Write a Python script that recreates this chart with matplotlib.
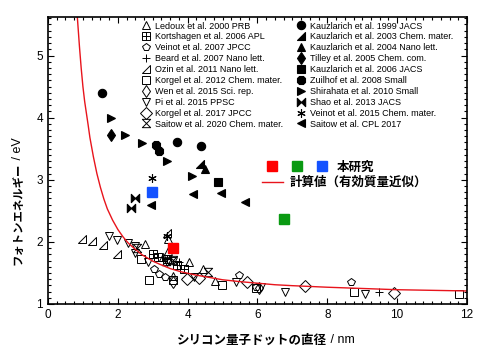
import matplotlib
matplotlib.use('Agg')
import matplotlib.pyplot as plt
from matplotlib.path import Path
from matplotlib.legend_handler import HandlerTuple
from matplotlib.ticker import MultipleLocator

plt.rcParams['font.family'] = ['Liberation Sans', 'Noto Sans CJK JP']
JP = ['Noto Sans CJK JP', 'Liberation Sans']

# --- literature data (diameter nm, photon energy eV) ---
ledoux_d = [2.79, 3.44, 3.45, 4.04, 4.43, 4.79, 3.59, 3.30]
ledoux_E = [1.97, 1.85, 2.04, 1.67, 1.57, 1.37, 1.45, 1.75]
kortshagen_d = [3.02, 3.16, 3.40, 3.69, 3.89]
kortshagen_E = [1.80, 1.76, 1.72, 1.62, 1.57]
veinot07_d = [3.05, 3.18, 3.36, 5.48, 8.67, 5.97]
veinot07_E = [1.56, 1.49, 1.44, 1.47, 1.36, 1.27]
beard_d = [3.75, 9.47]
beard_E = [1.67, 1.20]
ozin_d = [0.96, 1.27, 1.57, 1.98, 3.40]
ozin_E = [2.05, 2.01, 1.95, 1.81, 2.15]
korgel12_d = [2.66, 2.88, 3.59, 4.98, 5.97, 8.77, 11.78]
korgel12_E = [1.73, 1.38, 1.38, 1.30, 1.26, 1.20, 1.16]
wen_d = [3.59, 6.03]
wen_E = [1.35, 1.26]
pi_d = [1.75, 1.99, 2.28, 2.49, 2.50, 2.87, 3.42, 3.57, 4.19, 5.39, 6.10, 6.79, 9.08]
pi_E = [2.09, 2.03, 1.99, 1.93, 1.82, 1.67, 1.67, 1.69, 1.43, 1.35, 1.28, 1.20, 1.16]
korgel17_d = [3.99, 4.32, 5.70, 7.35, 9.92]
korgel17_E = [1.41, 1.42, 1.35, 1.29, 1.17]
saitow20_d = [2.55, 3.38, 3.59, 4.59]
saitow20_E = [1.90, 1.70, 1.71, 1.52]

kauz99_d = [1.56, 3.69, 4.38]
kauz99_E = [4.40, 3.61, 3.54]
kauz03_d = [4.36]
kauz03_E = [3.26]
kauz04_d = [4.50]
kauz04_E = [3.18]
tilley_d = [1.80]
tilley_E = [3.72]
kauz06_d = [4.88]
kauz06_E = [2.96]
zuilhof_d = [3.09, 3.19]
zuilhof_E = [3.56, 3.46]
shirahata_d = [1.81, 2.21, 2.70, 3.42, 4.12]
shirahata_E = [3.99, 3.72, 3.59, 3.31, 3.06]
shao_d = [2.48, 2.39]
shao_E = [2.71, 2.54]
veinot15_d = [2.97, 3.42]
veinot15_E = [3.03, 2.10]
saitow17_d = [2.95, 4.16, 4.96, 5.65]
saitow17_E = [2.59, 2.77, 2.79, 2.64]

# this work
red_d, red_E = [3.58], [1.90]
green_d, green_E = [6.77], [2.37]
blue_d, blue_E = [2.99], [2.81]

# effective mass approximation curve
calc_d = [0.84, 0.9, 0.95, 1.0, 1.05, 1.1, 1.15, 1.2, 1.3, 1.4, 1.5, 1.6, 1.7,
          1.85, 2.0, 2.15, 2.3, 2.5, 2.7, 3.0, 3.2, 3.5, 3.8, 4.2, 4.5, 5.0,
          5.5, 6.0, 6.5, 7.0, 8.0, 9.0, 10.0, 11.0, 12.0]
calc_E = [5.62, 5.15, 4.80, 4.50, 4.26, 4.07, 3.88, 3.68, 3.37, 3.10, 2.88,
          2.69, 2.53, 2.35, 2.20, 2.08, 1.98, 1.88, 1.79, 1.69, 1.64, 1.57,
          1.52, 1.47, 1.44, 1.39, 1.36, 1.335, 1.31, 1.295, 1.27, 1.25, 1.23,
          1.22, 1.21]

# custom marker shapes
M, L, C = Path.MOVETO, Path.LINETO, Path.CLOSEPOLY
sq_plus = Path([(-1, -1), (1, -1), (1, 1), (-1, 1), (-1, -1), (0, -1), (0, 1), (-1, 0), (1, 0)],
               [M, L, L, L, C, M, L, M, L])
rtri = Path([(-1, -1), (1, -1), (1, 1), (-1, -1)], [M, L, L, C])
hourglass = Path([(-1, 1), (1, 1), (-1, -1), (1, -1), (-1, 1)], [M, L, L, L, C])
bowtie = Path([(-1, 1), (1, -1), (1, 1), (-1, -1), (-1, 1)], [M, L, L, L, C])

fig = plt.figure(figsize=(5, 3.58), dpi=100)
ax = fig.add_axes([48 / 500, 1 - 304 / 358, 419 / 500, 287 / 358])

open_sets = [
    (ledoux_d, ledoux_E, '^', 'Ledoux et al. 2000 PRB'),
    (kortshagen_d, kortshagen_E, sq_plus, 'Kortshagen et al. 2006 APL'),
    (veinot07_d, veinot07_E, 'p', 'Veinot et al. 2007 JPCC'),
    (beard_d, beard_E, '+', 'Beard et al. 2007 Nano lett.'),
    (ozin_d, ozin_E, rtri, 'Ozin et al. 2011 Nano lett.'),
    (korgel12_d, korgel12_E, 's', 'Korgel et al. 2012 Chem. mater.'),
    (wen_d, wen_E, 'd', 'Wen et al. 2015 Sci. rep.'),
    (pi_d, pi_E, 'v', 'Pi et al. 2015 PPSC'),
    (korgel17_d, korgel17_E, 'D', 'Korgel et al. 2017 JPCC'),
    (saitow20_d, saitow20_E, hourglass, 'Saitow et al. 2020 Chem. mater.'),
]
filled_sets = [
    (kauz99_d, kauz99_E, 'o', 'Kauzlarich et al. 1999 JACS'),
    (kauz03_d, kauz03_E, rtri, 'Kauzlarich et al. 2003 Chem. mater.'),
    (kauz04_d, kauz04_E, '^', 'Kauzlarich et al. 2004 Nano lett.'),
    (tilley_d, tilley_E, 'd', 'Tilley et al. 2005 Chem. com.'),
    (kauz06_d, kauz06_E, 's', 'Kauzlarich et al. 2006 JACS'),
    (zuilhof_d, zuilhof_E, '8', 'Zuilhof et al. 2008 Small'),
    (shirahata_d, shirahata_E, '>', 'Shirahata et al. 2010 Small'),
    (shao_d, shao_E, bowtie, 'Shao et al. 2013 JACS'),
    (veinot15_d, veinot15_E, (6, 2, 0), 'Veinot et al. 2015 Chem. mater.'),
    (saitow17_d, saitow17_E, '<', 'Saitow et al. CPL 2017'),
]

h_open, h_fill = [], []
for d, E, m, lab in open_sets:
    h, = ax.plot(d, E, ls='none', marker=m, ms=6, mfc='none', mec='k', mew=0.7, label=lab)
    h_open.append(h)
for d, E, m, lab in filled_sets:
    h, = ax.plot(d, E, ls='none', marker=m, ms=6, mfc='k', mec='k', mew=0.8, label=lab)
    h_fill.append(h)

line, = ax.plot(calc_d, calc_E, color='#e8141c', lw=1.0)
hr, = ax.plot(red_d, red_E, ls='none', marker='s', ms=7, color='#ff0000')
hg, = ax.plot(green_d, green_E, ls='none', marker='s', ms=7, color='#0a9a12')
hb, = ax.plot(blue_d, blue_E, ls='none', marker='s', ms=7, color='#1452ff')

ax.set_xlim(0, 12)
ax.set_ylim(1, 5.62)
ax.xaxis.set_major_locator(MultipleLocator(2))
ax.xaxis.set_minor_locator(MultipleLocator(0.25))
ax.yaxis.set_major_locator(MultipleLocator(1))
ax.yaxis.set_minor_locator(MultipleLocator(0.1))
ax.tick_params(which='both', direction='in', top=True, right=True, labelsize=8.5, width=0.8)
ax.tick_params(which='major', length=4)
ax.tick_params(which='minor', length=2)
for s in ax.spines.values():
    s.set_linewidth(1.2)

leg_kw = dict(frameon=False, fontsize=6.5, handlelength=1.0, handletextpad=0.5,
              labelspacing=0.21, borderpad=0, borderaxespad=0, loc='upper left', numpoints=1)
leg1 = ax.legend(handles=h_open, bbox_to_anchor=(0.223, 0.984), **leg_kw)
ax.add_artist(leg1)
leg2 = ax.legend(handles=h_fill, bbox_to_anchor=(0.594, 0.984), **leg_kw)
ax.add_artist(leg2)

leg3 = ax.legend(handles=[(hr, hg, hb)], labels=['本研究'],
                 handler_map={tuple: HandlerTuple(ndivide=None, pad=0)},
                 frameon=False, handlelength=6.0, handletextpad=0.2, borderpad=0, borderaxespad=0,
                 loc='upper left', bbox_to_anchor=(0.505, 0.5),
                 prop=dict(family=JP, weight='bold', size=9))
ax.add_artist(leg3)
ax.legend(handles=[line], labels=['計算値（有効質量近似）'], frameon=False, handlelength=1.7,
          handletextpad=0.5, borderpad=0, borderaxespad=0, loc='upper left',
          bbox_to_anchor=(0.511, 0.446), prop=dict(family=JP, weight='bold', size=9))

# axis labels: bold Japanese part + regular unit part
tx = fig.text(177 / 500, 1 - 340 / 358, 'シリコン量子ドットの直径', family=JP, weight='bold',
              fontsize=9, ha='left', va='center')
ty = fig.text(18 / 500, 1 - 265 / 358, 'フォトンエネルギー', family=JP, weight='bold',
              fontsize=8.2, ha='center', va='bottom', rotation=90)
fig.canvas.draw()
bx = tx.get_window_extent()
by = ty.get_window_extent()
fig.text(bx.x1 / fig.bbox.width, 1 - 340 / 358, ' / nm', fontsize=9, ha='left', va='center')
fig.text(18 / 500, by.y1 / fig.bbox.height, ' / eV', fontsize=9, ha='center', va='bottom',
         rotation=90)

fig.savefig('out.png', dpi=100)
